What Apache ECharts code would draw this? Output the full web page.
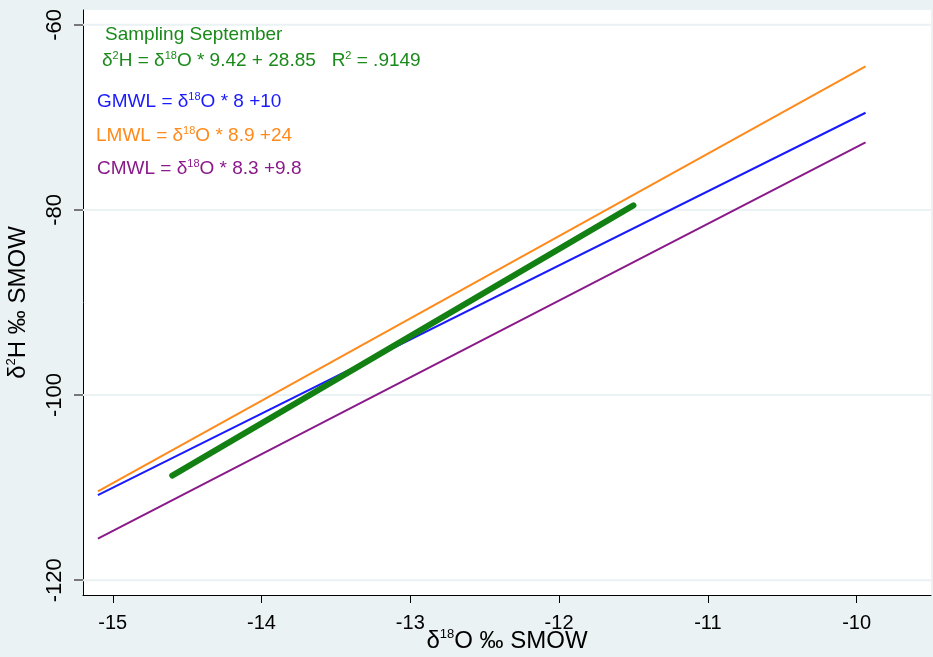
<!DOCTYPE html>
<html>
<head>
  <meta charset="UTF-8">
  <title>delta plot</title>
  <style type="text/css">
    html, body { margin: 0; padding: 0; background: #eaf2f3; }
    #chart { width: 933px; height: 657px; }
  </style>
  <script src="https://cdn.jsdelivr.net/npm/echarts@6/dist/echarts.min.js"></script>
</head>
<body>
<div id="chart"></div>
<script type="text/javascript">
    // tick labels
    var xTicks = [-15, -14, -13, -12, -11, -10];
    var yTicks = [-120, -100, -80, -60];

    // end points of the water lines
    var lineX = [-15.1, -9.94];
    var gmwlY = [-110.8, -69.5];
    var lmwlY = [-110.4, -64.5];
    var cmwlY = [-115.5, -72.7];

    // September fit
    var septX = [-14.6, -11.5];
    var septY = [-108.7, -79.5];

    var xMin = -15.2, xMax = -9.5;

    function pairs(xs, ys) {
        var out = [];
        for (var i = 0; i < xs.length; i++) out.push([xs[i], ys[i]]);
        return out;
    }

    var font = 'Liberation Sans, Arial, sans-serif';
    var supStyle = { fontSize: 11, verticalAlign: 'top', lineHeight: 12, fontFamily: font };
    var nameRich = {
        t: { fontSize: 24, lineHeight: 26, fontFamily: font, color: '#000' },
        s: { fontSize: 13, verticalAlign: 'top', lineHeight: 13, fontFamily: font, color: '#000' }
    };

    function note(x, y, txt, color) {
        return {
            type: 'text',
            left: x,
            top: y,
            style: {
                text: txt,
                fill: color,
                font: '19px ' + font,
                rich: {
                    t: { fontSize: 19, lineHeight: 22, fontFamily: font },
                    s: supStyle
                }
            }
        };
    }

    // horizontal grid lines at the y ticks, as broken line segments
    var gridData = [];
    for (var i = 0; i < yTicks.length; i++) {
        gridData.push([xMin, yTicks[i]], [xMax, yTicks[i]], '-');
    }

    var myChart = echarts.init(document.getElementById('chart'));
    var option = {
        backgroundColor: '#eaf2f3',
        animation: false,
        grid: {
            left: 83, right: 2, top: 10, bottom: 62,
            outerBoundsMode: 'none', containLabel: false,
            show: true, backgroundColor: '#ffffff', borderWidth: 0
        },
        xAxis: {
            type: 'value',
            min: xMin,
            max: xMax,
            name: '{t|δ}{s|18}{t|O ‰ SMOW}',
            nameLocation: 'middle',
            nameGap: 33,
            nameMoveOverlap: false,
            nameTextStyle: { color: '#000', rich: nameRich },
            axisLine: { lineStyle: { color: '#000', width: 1 } },
            axisTick: { show: true, customValues: xTicks, length: 8, lineStyle: { color: '#000', width: 1 } },
            axisLabel: { customValues: xTicks, color: '#000', fontSize: 20, fontFamily: font, margin: 18 },
            splitLine: { show: false }
        },
        yAxis: {
            type: 'value',
            min: -121.6,
            max: -58.4,
            name: '{t|δ}{s|2}{t|H ‰ SMOW}',
            nameLocation: 'middle',
            nameRotate: 90,
            nameGap: 52,
            nameMoveOverlap: false,
            nameTextStyle: { color: '#000', rich: nameRich },
            axisLine: { show: true, lineStyle: { color: '#000', width: 1 } },
            axisTick: { show: true, customValues: yTicks, length: 9, lineStyle: { color: '#777', width: 2 } },
            axisLabel: { customValues: yTicks, rotate: 90, color: '#000', fontSize: 22, fontFamily: font, margin: 17 },
            splitLine: { show: false }
        },
        graphic: [
            note(105, 25, '{t|Sampling September}', '#1a8a1a'),
            note(102, 50, '{t|δ}{s|2}{t|H = δ}{s|18}{t|O * 9.42 + 28.85   R}{s|2}{t| = .9149}', '#1a8a1a'),
            note(97, 91, '{t|GMWL = δ}{s|18}{t|O * 8 +10}', '#1a1aff'),
            note(96, 125, '{t|LMWL = δ}{s|18}{t|O * 8.9 +24}', '#ff8a1a'),
            note(97, 158, '{t|CMWL = δ}{s|18}{t|O * 8.3 +9.8}', '#8a1a8a')
        ],
        series: [
            {
                name: 'grid', type: 'line', symbol: 'none', silent: true, z: 1,
                data: gridData,
                lineStyle: { color: '#eaf2f3', width: 2 }
            },
            {
                name: 'LMWL', type: 'line', symbol: 'none', z: 3, data: pairs(lineX, lmwlY),
                lineStyle: { color: '#ff8a1a', width: 2 }
            },
            {
                name: 'GMWL', type: 'line', symbol: 'none', z: 3, data: pairs(lineX, gmwlY),
                lineStyle: { color: '#1a1aff', width: 2 }
            },
            {
                name: 'CMWL', type: 'line', symbol: 'none', z: 3, data: pairs(lineX, cmwlY),
                lineStyle: { color: '#8a1a8a', width: 2 }
            },
            {
                name: 'September', type: 'line', symbol: 'none', z: 3, data: pairs(septX, septY),
                lineStyle: { color: '#128012', width: 6, cap: 'round' }
            }
        ]
    };
    myChart.setOption(option);
</script>
</body>
</html>
